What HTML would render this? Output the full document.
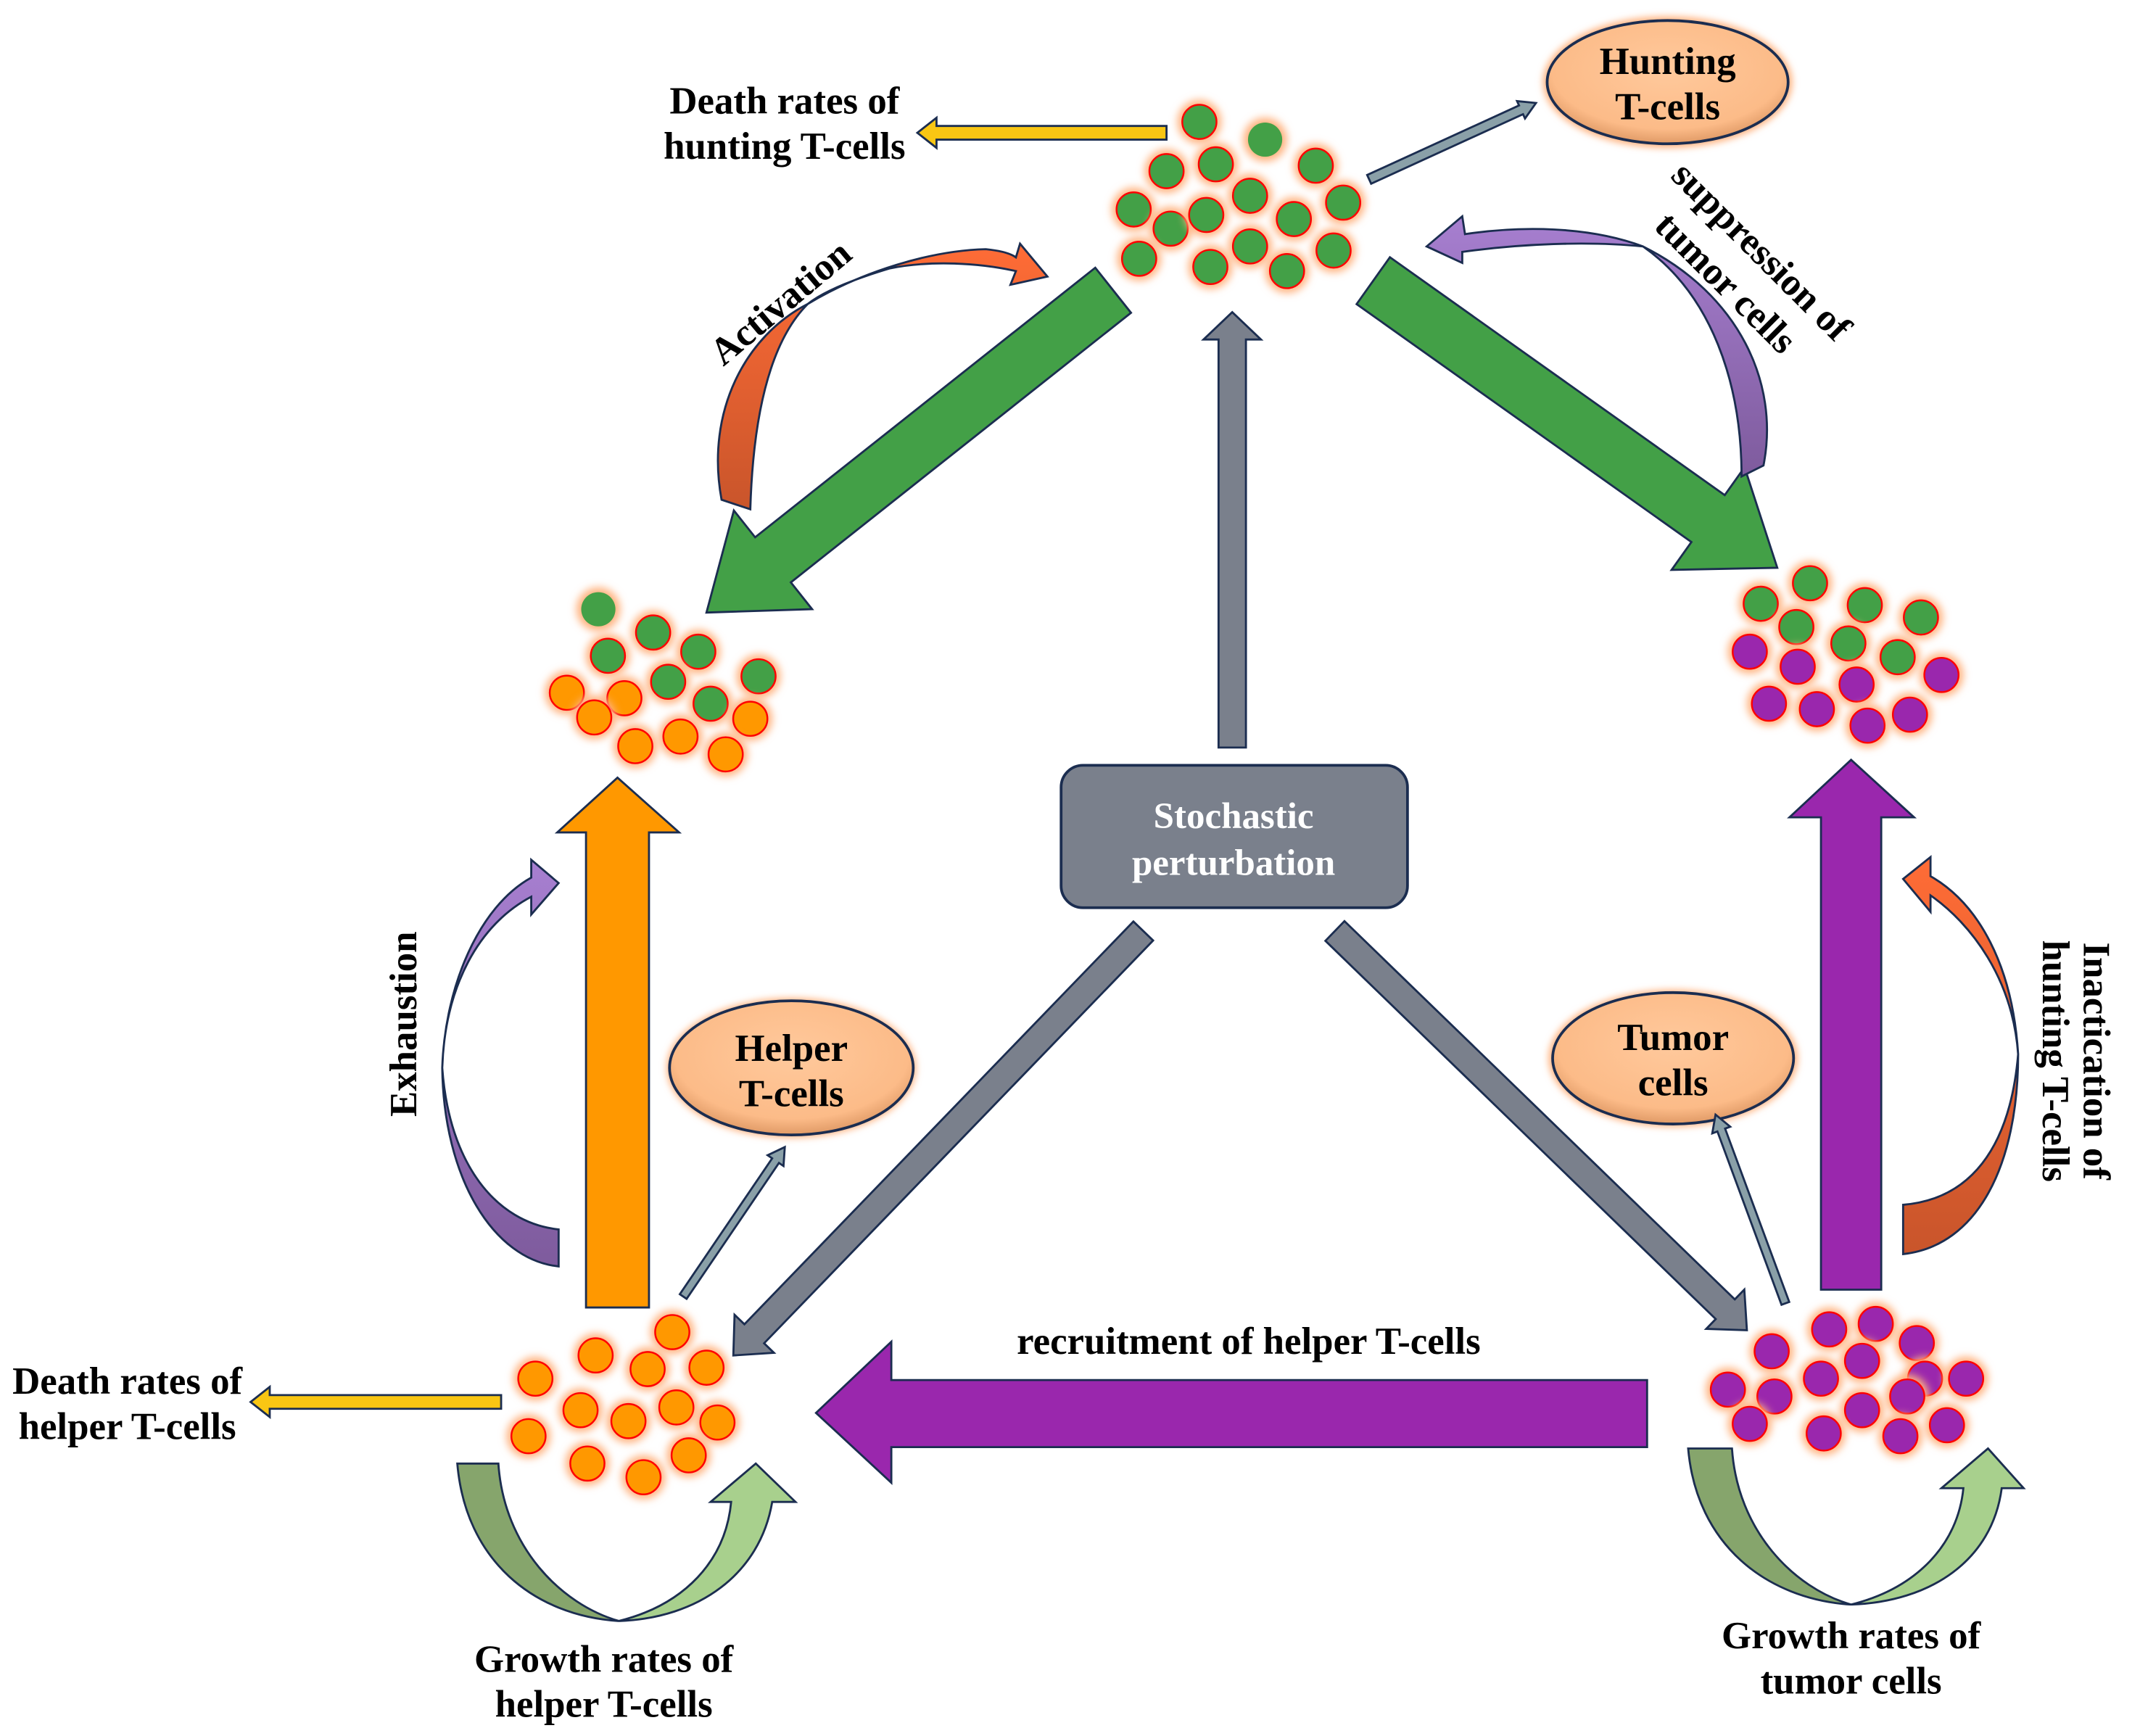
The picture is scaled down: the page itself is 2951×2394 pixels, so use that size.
<!DOCTYPE html>
<html><head><meta charset="utf-8"><style>html,body{margin:0;padding:0;background:#fff}svg{display:block}</style></head><body>
<svg width="2951" height="2394" viewBox="0 0 1563 1268" xmlns="http://www.w3.org/2000/svg" font-family="'Liberation Serif', serif" font-weight="bold">
<defs>
<filter id="glow" x="-50%" y="-50%" width="200%" height="200%"><feGaussianBlur stdDeviation="3"/></filter>
<filter id="eglow" x="-20%" y="-20%" width="140%" height="140%"><feGaussianBlur stdDeviation="2.5"/></filter>
<radialGradient id="peach" cx="50%" cy="40%" r="60%"><stop offset="0" stop-color="#ffc99c"/><stop offset="0.8" stop-color="#fcbb88"/><stop offset="1" stop-color="#e09a66"/></radialGradient>
<linearGradient id="orgV" x1="0" y1="0" x2="0" y2="1"><stop offset="0" stop-color="#ff6c36"/><stop offset="1" stop-color="#c9552b"/></linearGradient>
<linearGradient id="purV" x1="0" y1="0" x2="0" y2="1"><stop offset="0" stop-color="#a77fd0"/><stop offset="1" stop-color="#7e5b9d"/></linearGradient>
<g id="gc"><circle r="16" fill="#ffb27f" filter="url(#glow)"/><circle r="12.5" fill="#43a047" stroke="#f00" stroke-width="1.3"/></g>
<g id="gn"><circle r="16" fill="#ffb27f" filter="url(#glow)"/><circle r="12.5" fill="#43a047"/></g>
<g id="oc"><circle r="16" fill="#ffb27f" filter="url(#glow)"/><circle r="12.5" fill="#ff9800" stroke="#f00" stroke-width="1.3"/></g>
<g id="pc"><circle r="16" fill="#ffb27f" filter="url(#glow)"/><circle r="12.5" fill="#9a27ad" stroke="#f00" stroke-width="1.3"/></g>
</defs>
<rect width="1563" height="1268" fill="#fff"/>

<g>
<ellipse cx="1218" cy="60" rx="91" ry="48" fill="#ffb27f" filter="url(#eglow)"/>
<ellipse cx="578" cy="780" rx="91" ry="51" fill="#ffb27f" filter="url(#eglow)"/>
<ellipse cx="1222" cy="773" rx="91" ry="50" fill="#ffb27f" filter="url(#eglow)"/>
</g>
<g stroke="#1b2d50" stroke-width="2">
<ellipse cx="1218" cy="60" rx="88" ry="45" fill="url(#peach)"/>
<ellipse cx="578" cy="780" rx="89" ry="49" fill="url(#peach)"/>
<ellipse cx="1222" cy="773" rx="88" ry="48" fill="url(#peach)"/>
</g>

<g stroke="#1b2d50" stroke-width="1.5" stroke-linejoin="miter">
<polygon transform="translate(813,212) rotate(141.6)" points="0,-21 317,-21 317,-46 379,0 317,46 317,21 0,21" fill="#43a047"/>
<polygon transform="translate(1003,205) rotate(35.4)" points="0,-21 300,-21 300,-46 362,0 300,46 300,21 0,21" fill="#43a047"/>
<polygon points="428,955 428,608 407,608 451,568 496,608 474,608 474,955" fill="#ff9800"/>
<polygon points="1330,942 1330,597 1307,597 1352,555 1398,597 1374,597 1374,942" fill="#9a27ad"/>
<polygon points="1203,1008 651,1008 651,980 596,1032 651,1083 651,1057 1203,1057" fill="#9a27ad"/>
<polygon transform="translate(900,546) rotate(-90)" points="0,-10 298,-10 298,-21 318,0 298,21 298,10 0,10" fill="#7a808c"/>
<polygon transform="translate(835,680) rotate(134)" points="0,-10 409,-10 409,-20 431,0 409,20 409,10 0,10" fill="#7a808c"/>
<polygon transform="translate(975,680) rotate(44.1)" points="0,-10 397,-10 397,-20 419,0 397,20 397,10 0,10" fill="#7a808c"/>
<polygon points="852,92 684,92 684,86 670,97 684,108 684,102 852,102" fill="#f9c613"/>
<polygon points="366,1019 197,1019 197,1013 183,1024 197,1035 197,1029 366,1029" fill="#f9c613"/>
<polygon transform="translate(1000,131) rotate(-24.6)" points="0,-3.5 122,-3.5 122,-7 134,0 122,7 122,3.5 0,3.5" fill="#8aa0a8"/>
<polygon transform="translate(499,947) rotate(-55.8)" points="0,-3 120,-3 120,-7 132,0 120,7 120,3 0,3" fill="#8aa0a8"/>
<polygon transform="translate(1304,952) rotate(-110.3)" points="0,-3 135,-3 135,-7 147,0 135,7 135,3 0,3" fill="#8aa0a8"/>

<path d="M1390,916 C1445,910 1474,850 1474,770 C1470,705 1445,660 1410,640 L1410,626 L1390,642 L1410,666 L1410,654 C1440,675 1470,715 1474,770 C1468,840 1438,876 1390,880 Z" fill="url(#orgV)"/>
<path d="M408,925 C360,920 324,860 323,780 C325,720 350,675 388,655 L388,668 L408,645 L388,628 L388,641 C350,662 325,720 323,780 C328,850 362,893 408,898 Z" fill="url(#purV)"/>
<path d="M527,365 C515,300 545,245 590,222 C630,198 680,183 720,182 C730,183 738,185 742,188 L745,178 L765,202 L738,208 L742,198 C715,192 680,190 650,196 C620,205 600,214 590,222 C562,250 550,305 548,372 Z" fill="url(#orgV)"/>
<path d="M1288,340 C1300,280 1270,215 1200,180 C1160,165 1110,165 1070,171 L1068,158 L1042,180 L1068,192 L1068,184 C1110,178 1160,176 1200,180 C1250,215 1272,280 1272,348 Z" fill="url(#purV)"/>
<path d="M334,1069 L364,1069 C368,1130 410,1172 452,1184 C390,1180 340,1140 334,1069 Z" fill="#86a56c"/>
<path d="M452,1184 C500,1172 530,1140 534,1097 L519,1097 L552,1069 L581,1097 L564,1097 C555,1150 510,1182 452,1184 Z" fill="#a8d08d"/>
<path d="M1233,1058 L1265,1058 C1269,1118 1310,1160 1352,1172 C1290,1168 1239,1128 1233,1058 Z" fill="#86a56c"/>
<path d="M1352,1172 C1400,1160 1430,1128 1434,1087 L1418,1087 L1452,1058 L1478,1087 L1462,1087 C1455,1140 1410,1170 1352,1172 Z" fill="#a8d08d"/>
</g>

<rect x="775" y="559" width="253" height="104" rx="16" fill="#7a808c" stroke="#1b2d50" stroke-width="2"/>
<text x="901" y="605" font-size="27" fill="#fff" text-anchor="middle">Stochastic</text>
<text x="901" y="639" font-size="27" fill="#fff" text-anchor="middle">perturbation</text>

<g font-size="28" fill="#000" text-anchor="middle">
<text x="1218" y="54">Hunting</text><text x="1218" y="87">T-cells</text>
<text x="578" y="775">Helper</text><text x="578" y="808">T-cells</text>
<text x="1222" y="767">Tumor</text><text x="1222" y="800">cells</text>
<text x="573" y="83">Death rates of</text><text x="573" y="116">hunting T-cells</text>
<text x="93" y="1018">Death rates of</text><text x="93" y="1051">helper T-cells</text>
<text x="441" y="1221">Growth rates of</text><text x="441" y="1254">helper T-cells</text>
<text x="1352" y="1204">Growth rates of</text><text x="1352" y="1237">tumor cells</text>
<text x="912" y="989">recruitment of helper T-cells</text>
<text transform="translate(576,228) rotate(-40)">Activation</text>
<text transform="translate(304,748) rotate(-90)">Exhaustion</text>
<text transform="translate(1280,190) rotate(45)">suppression of</text>
<text transform="translate(1254,213) rotate(45)">tumor cells</text>
<text transform="translate(1522,775) rotate(90)">Inactication of</text>
<text transform="translate(1492,775) rotate(90)">hunting T-cells</text>
</g>

<use href="#gc" x="876" y="89"/><use href="#gn" x="924" y="102"/><use href="#gc" x="961" y="121"/>
<use href="#gc" x="852" y="125"/><use href="#gc" x="888" y="120"/><use href="#gc" x="913" y="143"/>
<use href="#gc" x="828" y="153"/><use href="#gc" x="855" y="167"/><use href="#gc" x="881" y="157"/>
<use href="#gc" x="945" y="160"/><use href="#gc" x="981" y="148"/><use href="#gc" x="832" y="189"/>
<use href="#gc" x="884" y="195"/><use href="#gc" x="913" y="180"/><use href="#gc" x="940" y="198"/><use href="#gc" x="974" y="183"/>

<use href="#gn" x="437" y="445"/><use href="#gc" x="477" y="462"/><use href="#gc" x="444" y="479"/>
<use href="#gc" x="510" y="476"/><use href="#gc" x="488" y="498"/><use href="#gc" x="554" y="494"/><use href="#gc" x="519" y="514"/>
<use href="#oc" x="414" y="506"/><use href="#oc" x="456" y="510"/><use href="#oc" x="434" y="524"/>
<use href="#oc" x="548" y="525"/><use href="#oc" x="464" y="545"/><use href="#oc" x="497" y="538"/><use href="#oc" x="530" y="551"/>

<use href="#gc" x="1286" y="441"/><use href="#gc" x="1322" y="426"/><use href="#gc" x="1362" y="442"/>
<use href="#gc" x="1403" y="451"/><use href="#gc" x="1312" y="458"/><use href="#gc" x="1350" y="470"/><use href="#gc" x="1386" y="480"/>
<use href="#pc" x="1278" y="476"/><use href="#pc" x="1313" y="487"/><use href="#pc" x="1356" y="500"/><use href="#pc" x="1418" y="493"/>
<use href="#pc" x="1292" y="514"/><use href="#pc" x="1327" y="518"/><use href="#pc" x="1364" y="530"/><use href="#pc" x="1395" y="522"/>

<use href="#oc" x="391" y="1007"/><use href="#oc" x="435" y="990"/><use href="#oc" x="491" y="973"/>
<use href="#oc" x="473" y="1000"/><use href="#oc" x="516" y="999"/><use href="#oc" x="424" y="1030"/>
<use href="#oc" x="459" y="1038"/><use href="#oc" x="494" y="1028"/><use href="#oc" x="524" y="1039"/>
<use href="#oc" x="386" y="1049"/><use href="#oc" x="429" y="1069"/><use href="#oc" x="470" y="1079"/><use href="#oc" x="503" y="1063"/>

<use href="#pc" x="1294" y="987"/><use href="#pc" x="1336" y="971"/><use href="#pc" x="1370" y="967"/>
<use href="#pc" x="1400" y="981"/><use href="#pc" x="1330" y="1007"/><use href="#pc" x="1360" y="994"/>
<use href="#pc" x="1406" y="1007"/><use href="#pc" x="1436" y="1007"/><use href="#pc" x="1262" y="1015"/>
<use href="#pc" x="1296" y="1020"/><use href="#pc" x="1278" y="1040"/><use href="#pc" x="1360" y="1030"/>
<use href="#pc" x="1393" y="1020"/><use href="#pc" x="1332" y="1047"/><use href="#pc" x="1388" y="1049"/><use href="#pc" x="1422" y="1041"/>
</svg>
</body></html>
